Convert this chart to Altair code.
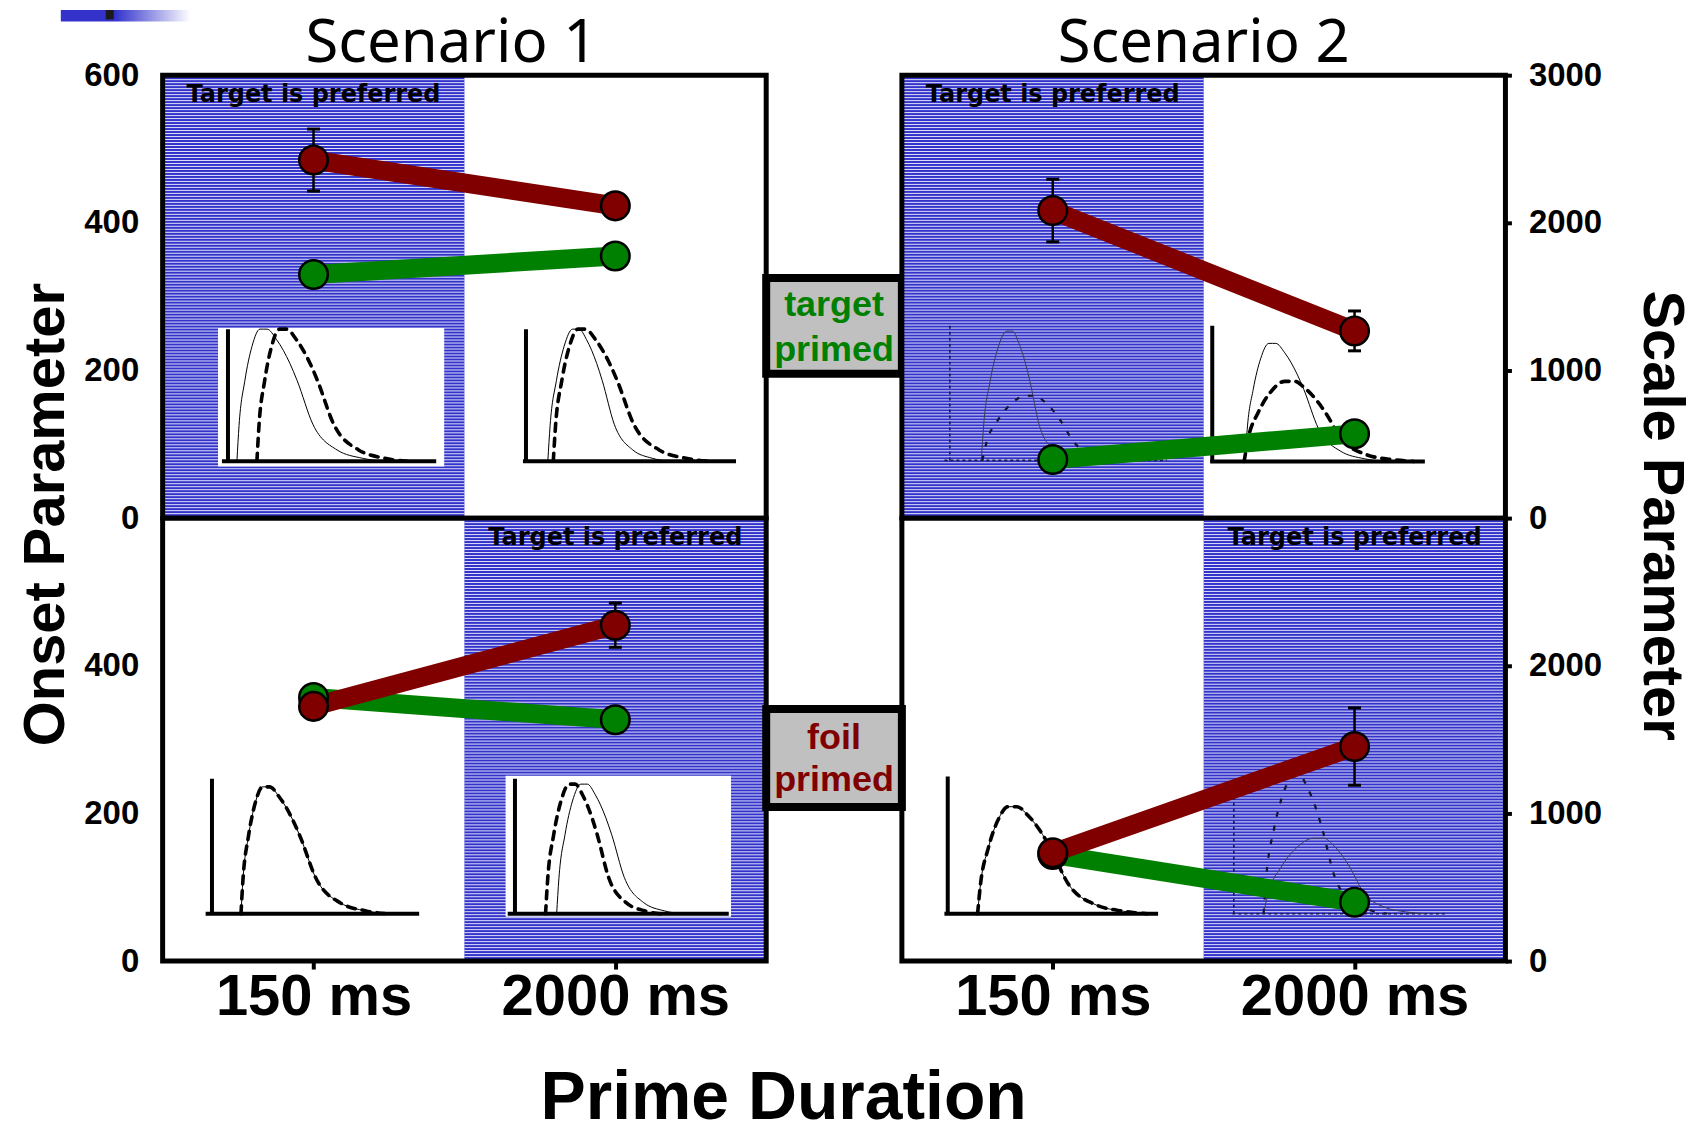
import altair as alt
import pandas as pd

# ---------------- data ----------------
DURATIONS = ["150 ms", "2000 ms"]
SCENARIOS = ["Scenario 1", "Scenario 2"]
CONDITIONS = ["target primed", "foil primed"]
Y_TITLES = ["Onset Parameter", "Scale Parameter"]
Y_MAX = [600, 3000]
Y_TICKS_TOP = [[0, 200, 400, 600], [0, 1000, 2000, 3000]]
Y_TICKS_BOTTOM = [[0, 200, 400], [0, 1000, 2000]]
PREFERRED = ["150 ms", "2000 ms"]          # shaded "Target is preferred" duration per condition row

S1_TARGET_RED = [485, 423]
S1_TARGET_RED_ERR = [42, 0]
S1_TARGET_GREEN = [330, 355]
S1_FOIL_RED = [345, 455]
S1_FOIL_RED_ERR = [0, 30]
S1_FOIL_GREEN = [357, 327]
S2_TARGET_RED = [2083, 1268]
S2_TARGET_RED_ERR = [212, 135]
S2_TARGET_GREEN = [397, 571]
S2_FOIL_RED = [733, 1453]
S2_FOIL_RED_ERR = [0, 262]
S2_FOIL_GREEN = [722, 399]

# inset sketches (distribution drawings), in each panel's data units
INSET_SCEN = [0, 0, 0, 0, 1, 1, 1, 1]
INSET_COND = [0, 0, 1, 1, 0, 0, 1, 1]
INSET_AXIS_X = [0.433, 2.408, 0.327, 2.335, 0.318, 2.057, 0.304, 2.200]
INSET_START_X = [0.393, 2.388, 0.285, 2.287, 0.282, 2.043, 0.282, 2.190]
INSET_END_X = [1.813, 3.800, 1.700, 3.752, 1.755, 3.466, 1.698, 3.608]
INSET_BASE_Y = [77, 77, 64, 64, 391, 384, 321, 321]
INSET_TOP_Y = [256, 256, 247, 247, 1303, 1303, 1250, 1250]
INSET_FAINT = [False, False, False, False, True, False, False, True]
BOX_INSET = [0, 3]
BOX_X0 = [0.367, 2.273]
BOX_X1 = [1.866, 3.767]
BOX_Y0 = [70, 60]
BOX_Y1 = [257.5, 251]

SOLID_START = [0.043, 0.104, 0.14, 0.195, 0.145, 0.154, 0.142, 0.14]
SOLID_PEAK = [0.17, 0.24, 0.26, 0.325, 0.28, 0.283, 0.31, 0.41]
SOLID_END = [0.75, 0.68, 0.85, 0.78, 0.60, 0.81, 0.95, 0.90]
SOLID_H = [1.0, 1.0, 0.94, 0.96, 0.96, 0.87, 0.78, 0.55]
DASH_START = [0.139, 0.13, 0.14, 0.143, 0.15, 0.15, 0.142, 0.14]
DASH_PEAK = [0.263, 0.265, 0.26, 0.27, 0.38, 0.37, 0.31, 0.30]
DASH_END = [0.86, 0.87, 0.85, 0.68, 0.85, 0.95, 0.95, 0.72]
DASH_H = [1.0, 1.0, 0.94, 0.96, 0.48, 0.59, 0.78, 1.0]

# shape of a sketched skewed density (rise and fall)
RISE_T = [0, 0.08, 0.3, 0.57, 0.87, 1.0]
RISE_V = [0, 0.27, 0.61, 0.87, 1.0, 1.0]
FALL_T = [0.03, 0.11, 0.22, 0.28, 0.41, 0.61, 0.82, 1.0]
FALL_V = [1.0, 0.92, 0.74, 0.61, 0.28, 0.086, 0.023, 0.0]

BOX_LINES = [["target", "primed"], ["foil", "primed"]]
BOX_LINE_Y = [[0.456, 0.355], [0.479, 0.384]]
MID_BOX_Y0 = [0.326, 0.348]
MID_BOX_Y1 = [0.542, 0.569]

# slide-template corner bar (top left of the slide), in the upper middle view's units
CORNER_X = [-5.199, -4.243]
CORNER_Y = [1.121, 1.147]
CORNER_BAR_X = [-4.868, -4.809]
CORNER_BAR_Y = [1.126, 1.147]

# ---------------- styles ----------------
BLUE = "#3333CC"
RED = "#800000"
GREEN = "#008000"
BOLD_FONT = "Liberation Sans, Arial, sans-serif"
PANEL_W, PANEL_H, MID_W = 605, 444, 136
N_STRIPES = 148

DATA = {
    (0, 0): (S1_TARGET_RED, S1_TARGET_RED_ERR, S1_TARGET_GREEN),
    (0, 1): (S1_FOIL_RED, S1_FOIL_RED_ERR, S1_FOIL_GREEN),
    (1, 0): (S2_TARGET_RED, S2_TARGET_RED_ERR, S2_TARGET_GREEN),
    (1, 1): (S2_FOIL_RED, S2_FOIL_RED_ERR, S2_FOIL_GREEN),
}


def curve_rows(i):
    rows = []
    ax, ex = INSET_AXIS_X[i], INSET_END_X[i]
    by, ty = INSET_BASE_Y[i], INSET_TOP_Y[i]
    specs = [("solid", SOLID_START[i], SOLID_PEAK[i], SOLID_END[i], SOLID_H[i]),
             ("dashed", DASH_START[i], DASH_PEAK[i], DASH_END[i], DASH_H[i])]
    for kind, st, pk, en, h in specs:
        us = [st + t * (pk - st) for t in RISE_T] + [pk + t * (en - pk) for t in FALL_T]
        vs = [v * h for v in RISE_V] + [v * h for v in FALL_V]
        for j, (u, v) in enumerate(zip(us, vs)):
            rows.append(dict(inset=i, kind=kind, faint=INSET_FAINT[i], curve=f"{i}-{kind}", idx=j,
                             x=ax + u * (ex - ax), y=by + v * (ty - by)))
    return rows


def panel(s, c):
    ymax = Y_MAX[s]
    xs = alt.Scale(domain=[0, 4], nice=False, zero=False)
    ys = alt.Scale(domain=[0, ymax], nice=False, zero=False)
    bottom = c == 1
    left = s == 0

    if bottom:
        label_expr = f"datum.value < 2 ? '{DURATIONS[0]}' : '{DURATIONS[1]}'"
        xaxis = alt.Axis(values=[1, 3], labelExpr=label_expr, labelFont=BOLD_FONT, labelFontWeight="bold",
                         labelFontSize=58, labelColor="black", labelLimit=600, ticks=True, tickSize=8,
                         tickWidth=4, tickColor="black", domain=False, labelPadding=0, grid=False, zindex=1,
                         title="Prime Duration" if left else "",
                         titleFont=BOLD_FONT, titleFontWeight="bold", titleFontSize=68, titleColor="black",
                         titleX=622, titleY=158, titleAlign="center", titleBaseline="alphabetic",
                         titleLimit=1000)
    else:
        xaxis = alt.Axis(labels=False, ticks=False, domain=False, grid=False, title="")

    yvals = Y_TICKS_BOTTOM[s] if bottom else Y_TICKS_TOP[s]
    ykw = dict(values=yvals, format="d", labelFont=BOLD_FONT, labelFontWeight="bold", labelFontSize=33,
               labelColor="black", domain=False, grid=False, zindex=1, titleLimit=1000)
    if left:
        yaxis = alt.Axis(orient="left", ticks=False, tickSize=0, labelPadding=24,
                         title="" if bottom else Y_TITLES[0],
                         titleFont=BOLD_FONT, titleFontWeight="bold", titleFontSize=58, titleColor="black",
                         titleX=-99, titleY=440, titleAngle=270, titleAlign="center",
                         titleBaseline="alphabetic", **ykw)
    else:
        yaxis = alt.Axis(orient="right", ticks=True, tickSize=6, tickWidth=4, tickColor="black",
                         labelPadding=17,
                         title="" if bottom else Y_TITLES[1],
                         titleFont=BOLD_FONT, titleFontWeight="bold", titleFontSize=58, titleColor="black",
                         titleX=138, titleY=441, titleAngle=90, titleAlign="center",
                         titleBaseline="alphabetic", **ykw)

    def X(f):
        return alt.X(f"{f}:Q", scale=xs, axis=xaxis)

    def Y(f):
        return alt.Y(f"{f}:Q", scale=ys, axis=yaxis)

    pref = DURATIONS.index(PREFERRED[c])
    blue_df = pd.DataFrame({"x0": [2 * pref], "x1": [2 * pref + 2], "y0": [0], "y1": [ymax]})
    layers = [alt.Chart(blue_df).mark_rect(color=BLUE).encode(
        x=X("x0"), x2="x1", y=Y("y0"), y2="y1")]
    # thin white horizontal lines that give the shaded region its striped look
    step = ymax / N_STRIPES
    layers.append(
        alt.Chart(alt.sequence(start=step / 2, stop=ymax, step=step, as_="sy"))
        .transform_calculate(x0=str(2 * pref), x1=str(2 * pref + 2))
        .mark_rule(color="white", strokeWidth=0.85)
        .encode(x=X("x0"), x2="x1", y=Y("sy"))
    )

    # white boxes behind some insets
    brows = [dict(x0=BOX_X0[k], x1=BOX_X1[k], y0=BOX_Y0[k], y1=BOX_Y1[k])
             for k, i in enumerate(BOX_INSET) if INSET_SCEN[i] == s and INSET_COND[i] == c]
    if brows:
        layers.append(alt.Chart(pd.DataFrame(brows)).mark_rect(color="white").encode(
            x=X("x0"), x2="x1", y=Y("y0"), y2="y1"))

    ids = [i for i in range(len(INSET_SCEN)) if INSET_SCEN[i] == s and INSET_COND[i] == c]
    arows = []
    crows = []
    for i in ids:
        arows.append(dict(x=INSET_AXIS_X[i], x2=INSET_AXIS_X[i], y=INSET_BASE_Y[i], y2=INSET_TOP_Y[i],
                          faint=INSET_FAINT[i]))
        arows.append(dict(x=INSET_START_X[i], x2=INSET_END_X[i], y=INSET_BASE_Y[i], y2=INSET_BASE_Y[i],
                          faint=INSET_FAINT[i]))
        crows += curve_rows(i)
    adf = pd.DataFrame(arows)
    cdf = pd.DataFrame(crows)
    for faint in [False, True]:
        a = adf[adf.faint == faint].drop(columns="faint")
        if len(a):
            if faint:
                m = alt.Chart(a).mark_rule(color="#1a1a44", strokeWidth=1.6, strokeDash=[3, 3])
            else:
                m = alt.Chart(a).mark_rule(color="black", strokeWidth=4)
            layers.append(m.encode(x=X("x"), x2="x2", y=Y("y"), y2="y2"))
        for kind in ["solid", "dashed"]:
            d = cdf[(cdf.faint == faint) & (cdf.kind == kind)].drop(columns="faint")
            if not len(d):
                continue
            if faint and kind == "solid":
                m = alt.Chart(d).mark_line(color="#3a3a5a", strokeWidth=1, interpolate="monotone")
            elif faint:
                m = alt.Chart(d).mark_line(color="#141430", strokeWidth=2.2, strokeDash=[5, 9],
                                           interpolate="monotone")
            elif kind == "solid":
                m = alt.Chart(d).mark_line(color="black", strokeWidth=1, interpolate="monotone")
            else:
                m = alt.Chart(d).mark_line(color="black", strokeWidth=3.6, strokeDash=[8, 7],
                                           strokeCap="round", interpolate="monotone")
            layers.append(m.encode(x=X("x"), y=Y("y"), detail="curve:N", order="idx:Q"))

    tdf = pd.DataFrame({"x": [2 * pref + 1], "y": [0.955 * ymax], "t": ["Target is preferred"]})
    layers.append(alt.Chart(tdf).mark_text(font="DejaVu Sans", fontWeight="bold", fontSize=24,
                                           color="#000000", baseline="middle", align="center").encode(
        x=X("x"), y=Y("y"), text="t:N"))

    red, err, green = DATA[(s, c)]
    rows = []
    for i, d in enumerate(DURATIONS):
        rows.append(dict(x=2 * i + 1, duration=d, series="green", value=green[i], err=0))
        rows.append(dict(x=2 * i + 1, duration=d, series="red", value=red[i], err=err[i]))
    sdf = pd.DataFrame(rows)
    sdf["lo"] = sdf["value"] - sdf["err"]
    sdf["hi"] = sdf["value"] + sdf["err"]
    edf = sdf[sdf.err > 0]

    for ser, col in [("green", GREEN), ("red", RED)]:
        layers.append(alt.Chart(sdf).transform_filter(alt.datum.series == ser).mark_line(
            color=col, strokeWidth=19, strokeCap="butt").encode(x=X("x"), y=Y("value")))
    if len(edf):
        layers.append(alt.Chart(edf).mark_rule(color="black", strokeWidth=2.5).encode(
            x=X("x"), y=Y("lo"), y2="hi"))
        for f in ["lo", "hi"]:
            layers.append(alt.Chart(edf).mark_tick(orient="horizontal", color="black", size=13,
                                                   thickness=3, opacity=1).encode(x=X("x"), y=Y(f)))
    for ser, col in [("green", GREEN), ("red", RED)]:
        layers.append(alt.Chart(sdf).transform_filter(alt.datum.series == ser).mark_circle(
            fill=col, stroke="black", strokeWidth=2.5, size=820, opacity=1).encode(
            x=X("x"), y=Y("value")))

    fdf = pd.DataFrame({"x0": [0], "x1": [4], "y0": [0], "y1": [ymax]})
    layers.append(alt.Chart(fdf).mark_rect(fillOpacity=0, stroke="black", strokeWidth=5).encode(
        x=X("x0"), x2="x1", y=Y("y0"), y2="y1"))

    props = dict(width=PANEL_W, height=PANEL_H)
    if not bottom:
        props["title"] = alt.TitleParams(text=SCENARIOS[s], font="Noto Sans", fontSize=60,
                                         fontWeight="normal", color="black", anchor="middle",
                                         baseline="alphabetic", offset=0, dy=63,
                                         dx=-13 if left else 0)
    return alt.layer(*layers).properties(**props)


def middle(c):
    xs = alt.Scale(domain=[0, 1], nice=False, zero=False)
    ys = alt.Scale(domain=[0, 1], nice=False, zero=False)

    def X(f):
        return alt.X(f"{f}:Q", scale=xs, axis=None)

    def Y(f):
        return alt.Y(f"{f}:Q", scale=ys, axis=None)

    col = GREEN if c == 0 else RED
    bdf = pd.DataFrame({"x0": [0], "x1": [1], "y0": [MID_BOX_Y0[c]], "y1": [MID_BOX_Y1[c]]})
    layers = [alt.Chart(bdf).mark_rect(fill="#C0C0C0", stroke="black", strokeWidth=8).encode(
        x=X("x0"), x2="x1", y=Y("y0"), y2="y1")]
    tdf = pd.DataFrame({"x": [0.5, 0.5], "y": BOX_LINE_Y[c], "t": BOX_LINES[c]})
    layers.append(alt.Chart(tdf).mark_text(font=BOLD_FONT, fontWeight="bold", fontSize=36, color=col,
                                           baseline="alphabetic", align="center").encode(
        x=X("x"), y=Y("y"), text="t:N"))
    if c == 0:
        grad = alt.LinearGradient(gradient="linear", x1=0, x2=1, y1=0, y2=0,
                                  stops=[alt.GradientStop(offset=0, color=BLUE),
                                         alt.GradientStop(offset=0.42, color=BLUE),
                                         alt.GradientStop(offset=1, color="white")])
        cdf0 = pd.DataFrame({"x0": [CORNER_X[0]], "x1": [CORNER_X[1]],
                             "y0": [CORNER_Y[0]], "y1": [CORNER_Y[1]]})
        layers.append(alt.Chart(cdf0).mark_rect(color=grad).encode(
            x=X("x0"), x2="x1", y=Y("y0"), y2="y1"))
        bar0 = pd.DataFrame({"x0": [CORNER_BAR_X[0]], "x1": [CORNER_BAR_X[1]],
                             "y0": [CORNER_BAR_Y[0]], "y1": [CORNER_BAR_Y[1]]})
        layers.append(alt.Chart(bar0).mark_rect(color="#1a1a1a").encode(
            x=X("x0"), x2="x1", y=Y("y0"), y2="y1"))
    return alt.layer(*layers).properties(width=MID_W, height=PANEL_H)


chart = alt.concat(
    panel(0, 0), middle(0), panel(1, 0),
    panel(0, 1), middle(1), panel(1, 1),
    columns=3, spacing=0, bounds="flush",
).properties(
    padding={"left": 10, "top": 0, "right": 0, "bottom": 0}
).configure_view(strokeWidth=0).configure_axis(grid=False)

chart.save("out.html", embed_options={"renderer": "svg", "actions": False})
